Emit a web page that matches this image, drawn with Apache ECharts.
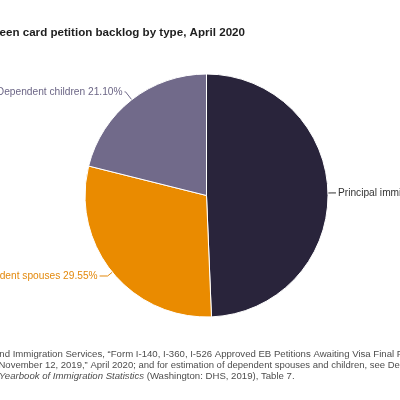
<!DOCTYPE html>
<html>
<head>
<meta charset="utf-8">
<script src="https://cdn.jsdelivr.net/npm/echarts@6/dist/echarts.min.js"></script>
<style>
html, body { margin: 0; padding: 0; width: 400px; height: 400px; overflow: hidden; background: #fff; }
/* the original figure is wider than the crop: draw it wider and let the window cut it */
#chart { position: absolute; left: -80px; top: 0; width: 640px; height: 400px; }
</style>
</head>
<body>
<div id="chart"></div>
<script>
// 数据
const categories = ['Principal immigrants', 'Dependent spouses', 'Dependent children'];
const shares = [49.35, 29.55, 21.10];
const titleText = 'Green card petition backlog by type, April 2020';
const sourceLines = [
    'and Immigration Services, \u201cForm I-140, I-360, I-526 Approved EB Petitions Awaiting Visa Final Priority Dates,',
    'November 12, 2019,\u201d April 2020; and for estimation of dependent spouses and children, see Department of Homeland Security,',
    '{i|Yearbook of Immigration Statistics} (Washington: DHS, 2019), Table 7.'
];

// 样式
const sliceColors = ['#29243b', '#ea8b00', '#716a8a'];
const labelColors = ['#333333', '#e3890c', '#6c6686'];
const lineLengths = [[4, 4], [6, 8], [10, 1]];
const shiftX = 80;

const chart = echarts.init(document.getElementById('chart'));

const pieData = categories.map(function(name, i) {
    return {
        name: name,
        value: shares[i],
        itemStyle: { color: sliceColors[i] },
        label: {
            color: labelColors[i],
            padding: i === 0 ? [0, 0, 5, 0] : 0
        },
        labelLine: {
            length: lineLengths[i][0],
            length2: lineLengths[i][1],
            lineStyle: { color: labelColors[i], width: 1 }
        }
    };
});

const option = {
    animation: false,
    graphic: [
        {
            type: 'text',
            left: shiftX - 14,
            top: 27,
            style: {
                text: titleText,
                font: 'bold 11.6px "Liberation Sans", Arial, sans-serif',
                fill: '#1e1e1e'
            }
        },
        {
            type: 'text',
            left: shiftX - 6,
            top: 349,
            style: {
                text: sourceLines[0],
                font: '9.6px "Liberation Sans", Arial, sans-serif',
                fill: '#4d4d4d'
            }
        },
        {
            type: 'text',
            left: shiftX - 1.5,
            top: 360,
            style: {
                text: sourceLines[1],
                font: '9.5px "Liberation Sans", Arial, sans-serif',
                fill: '#4d4d4d'
            }
        },
        {
            type: 'text',
            left: shiftX - 1,
            top: 371,
            style: {
                text: sourceLines[2],
                font: '9.6px "Liberation Sans", Arial, sans-serif',
                fill: '#4d4d4d',
                rich: {
                    i: { fontStyle: 'italic', font: 'italic 9.6px "Liberation Sans", Arial, sans-serif', fill: '#4d4d4d' }
                }
            }
        }
    ],
    series: [
        {
            type: 'pie',
            center: [shiftX + 206.5, 195.5],
            radius: 121.5,
            startAngle: 90,
            clockwise: true,
            avoidLabelOverlap: false,
            silent: true,
            itemStyle: { borderColor: '#ffffff', borderWidth: 1 },
            label: {
                show: true,
                position: 'outside',
                fontFamily: '"Liberation Sans", Arial, sans-serif',
                fontSize: 10.2,
                distanceToLabelLine: 2,
                overflow: 'none',
                formatter: function(p) {
                    return p.name + ' ' + p.value.toFixed(2) + '%';
                }
            },
            labelLine: { show: true, smooth: false },
            emphasis: { disabled: true },
            data: pieData
        }
    ]
};

chart.setOption(option);
window.addEventListener('resize', () => chart.resize());
</script>
</body>
</html>
